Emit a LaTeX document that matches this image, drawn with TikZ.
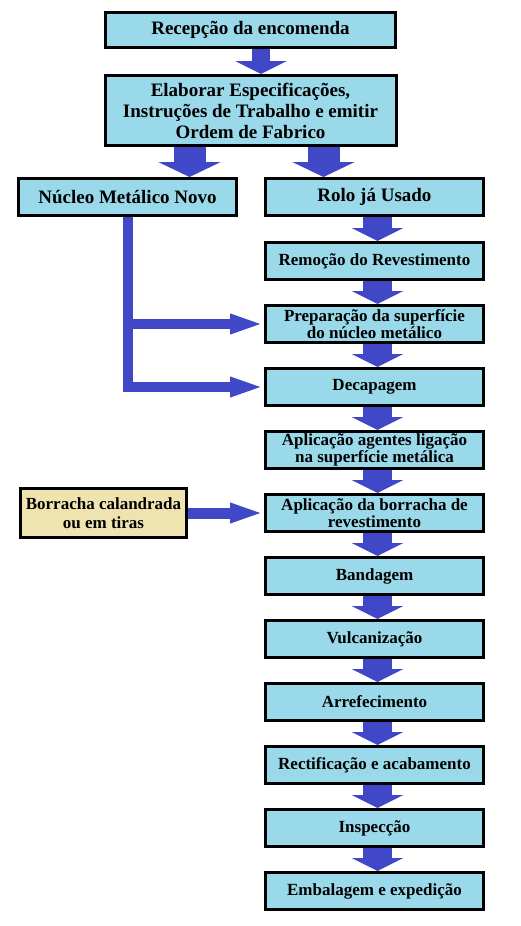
\documentclass[tikz,border=0pt]{standalone}
\usepackage{fontspec}
\setmainfont{Liberation Serif}
\usepackage{xcolor}
\usepackage{tikz}
\usetikzlibrary{arrows.meta,positioning}

\definecolor{boxblue}{RGB}{153,217,234}
\definecolor{rubberfill}{RGB}{239,228,176}
\definecolor{arrblue}{RGB}{64,72,200}
\newcommand{\boxfontL}{\fontsize{19}{21}\selectfont\bfseries}
\newcommand{\boxfontS}{\fontsize{17}{16.7}\selectfont\bfseries}

\begin{document}
\begin{tikzpicture}[
    x=1pt, y=-1pt,
    node distance=23pt and 26pt,
    box/.style={draw, line width=3pt, fill=boxblue, align=center, minimum width=218pt, minimum height=37pt, inner sep=2pt, font=\boxfontS},
    bigbox/.style={box, font=\boxfontL},
    rubberbox/.style={box, fill=rubberfill, minimum width=166pt, minimum height=49pt, font=\fontsize{17}{18.7}\selectfont\bfseries},
    downarr/.style={draw=arrblue, line width=29pt, -{Triangle[length=13pt,width=51pt]}},
    sidearr/.style={draw=arrblue, line width=10pt, line join=miter, -{Triangle[length=34pt,width=18pt]}}
]
\useasboundingbox (0,0) rectangle (520,926);

\node[bigbox, minimum width=290pt, minimum height=35pt] (rec) at (250.5,30) {Recepção da encomenda};
\node[bigbox, minimum width=291pt, minimum height=70pt, below=25pt of rec] (elab) {Elaborar Especificações,\\Instruções de Trabalho e emitir\\Ordem de Fabrico};
\node[bigbox] (rolo) at (374.5,197) {Rolo já Usado};
\node[bigbox, left=of rolo] (nucleo) {Núcleo Metálico Novo};
\node[box, below=24pt of rolo] (remo) {Remoção do Revestimento};
\node[box, below=of remo] (prep) {Preparação da superfície\\do núcleo metálico};
\node[box, below=of prep] (decap) {Decapagem};
\node[box, below=of decap] (aplic1) {Aplicação agentes ligação\\na superfície metálica};
\node[box, below=of aplic1] (aplic2) {Aplicação da borracha de\\revestimento};
\node[box, below=of aplic2] (band) {Bandagem};
\node[box, below=of band] (vulc) {Vulcanização};
\node[box, below=of vulc] (arref) {Arrefecimento};
\node[box, below=of arref] (rect) {Rectificação e acabamento};
\node[box, below=of rect] (insp) {Inspecção};
\node[box, below=of insp] (emb) {Embalagem e expedição};
\node[rubberbox, left=76pt of aplic2] (borr) {Borracha calandrada\\ou em tiras};

\draw[downarr, line width=18pt] ([xshift=10.5pt]rec.south) -- ([xshift=10.5pt]elab.north);
\draw[downarr, line width=32pt, -{Triangle[length=15pt,width=62pt]}] ([xshift=-61pt]elab.south) -- ([xshift=-61pt]elab.south |- nucleo.north);
\draw[downarr, line width=32pt, -{Triangle[length=15pt,width=62pt]}] ([xshift=73pt]elab.south) -- ([xshift=73pt]elab.south |- rolo.north);
\foreach \a/\b in {rolo/remo, remo/prep, prep/decap, decap/aplic1, aplic1/aplic2, aplic2/band, band/vulc, vulc/arref, arref/rect, rect/insp, insp/emb}
    \draw[downarr] ([xshift=3pt]\a.south) -- ([xshift=3pt]\b.north);

\draw[sidearr] (nucleo.south) |- (decap.west);
\draw[sidearr] (nucleo.south |- prep.west) -- (prep.west);
\draw[sidearr, line width=11pt] (borr.east) -- (aplic2.west);
\end{tikzpicture}
\end{document}
